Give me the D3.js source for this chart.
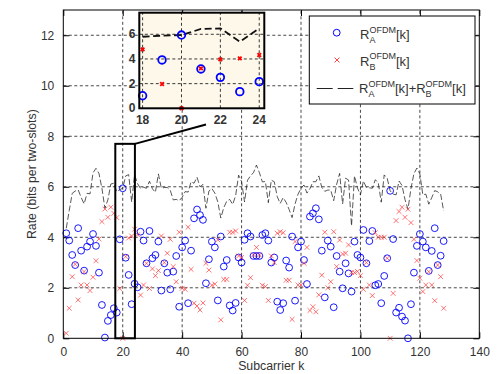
<!DOCTYPE html>
<html>
<head>
<meta charset="utf-8">
<script src="https://cdn.jsdelivr.net/npm/d3@7"></script>
<style>
  body { margin: 0; background: #fff; }
  svg { display: block; }
  text { font-family: Arial, "Liberation Sans", Helvetica, sans-serif; }
</style>
</head>
<body>
<svg id="chart" width="501" height="374"></svg>
<script>
// Per-subcarrier rates (bits per two-slots), subcarriers k = 1..128
const rateA = [
  4.16, 3.87, 3.30, 2.90, 4.36, 3.47, 2.68, 3.63, 3.83, 4.13,
  3.66, 2.60, 1.32, 0.03, 0.69, 0.92, 1.19, 1.02, 3.92, 5.94,
  3.19, 2.51, 1.35, 2.16, 2.02, 4.22, 3.87, 2.97, 4.25, 3.17,
  3.30, 3.83, 1.89, 2.97, 2.60, 1.94, 2.64, 3.26, 1.25, 3.60,
  3.87, 1.39, 3.47, 4.75, 5.10, 4.88, 4.69, 2.18, 3.13, 3.83,
  3.60, 1.50, 4.03, 2.84, 3.10, 1.30, 1.10, 1.40, 3.20, 3.00,
  3.90, 4.16, 4.03, 3.26, 3.26, 3.26, 4.09, 4.16, 3.87, 3.00,
  3.20, 1.45, 1.12, 1.39, 3.08, 2.80, 4.03, 1.49, 3.60, 3.83,
  3.10, 2.15, 4.82, 4.95, 5.15, 4.71, 3.47, 1.62, 3.87, 3.63,
  1.23, 3.26, 2.64, 1.98, 2.97, 2.57, 1.85, 3.83, 3.30, 3.20,
  4.29, 2.97, 3.85, 4.25, 2.10, 2.15, 1.39, 2.47, 3.17, 5.84,
  3.93, 1.02, 1.21, 0.86, 0.70, 0.00, 1.35, 2.60, 3.66, 4.13,
  3.83, 3.60, 2.67, 3.46, 4.36, 2.90, 3.27, 3.85
];
const rateB = [
  0.20, 1.19, 2.44, 2.93, 1.52, 2.11, 2.64, 2.11, 1.89, 2.42,
  3.07, 3.93, 4.62, 5.12, 4.79, 5.19, 4.95, 4.78, 1.97, 0.00,
  3.24, 3.97, 4.05, 4.32, 4.10, 1.71, 2.11, 2.97, 1.97, 2.75,
  2.48, 2.68, 4.05, 3.00, 3.37, 3.92, 2.84, 2.24, 4.20, 1.98,
  1.94, 4.40, 2.73, 1.39, 1.28, 1.12, 1.40, 2.97, 2.70, 2.10,
  2.15, 3.90, 0.73, 2.33, 2.33, 4.20, 4.20, 4.25, 3.26, 3.20,
  1.50, 2.10, 2.40, 3.30, 3.60, 3.30, 2.10, 2.05, 1.50, 3.26,
  3.00, 4.16, 4.22, 4.18, 2.30, 2.30, 0.75, 3.83, 2.11, 2.11,
  2.97, 3.60, 1.10, 1.25, 1.05, 1.72, 2.50, 4.20, 2.00, 2.24,
  4.22, 2.84, 3.89, 3.34, 3.37, 3.70, 2.60, 2.60, 2.65, 2.48,
  1.94, 3.00, 2.11, 1.69, 4.18, 4.00, 4.00, 4.00, 3.17, 0.00,
  1.78, 4.66, 5.02, 5.19, 4.79, 5.11, 4.58, 3.92, 3.08, 2.38,
  1.85, 2.11, 2.64, 2.11, 1.49, 2.90, 2.44, 1.19
];
const subcarriers = rateA.map((_, i) => i + 1);

const xTicks = [0, 20, 40, 60, 80, 100, 120, 140];
const yTicks = [0, 2, 4, 6, 8, 10, 12];
const insetXTicks = [18, 20, 22, 24];
const insetYTicks = [0, 2, 4, 6];
const xTitle = "Subcarrier k";
const yTitle = "Rate (bits per two-slots)";

const rows = subcarriers.map((k, i) => ({ k, a: rateA[i], b: rateB[i], sum: rateA[i] + rateB[i] }));

const svg = d3.select("#chart");
const M = { left: 63.3, right: 479.3, top: 10, bottom: 338.3 };
const x = d3.scaleLinear().domain([0, 140]).range([M.left, M.right]);
const y = d3.scaleLinear().domain([0, 13]).range([M.bottom, M.top]);

const BLUE = "#0000ff", RED = "#ff3030", TXT = "#333";

// plot background
svg.append("rect").attr("x", M.left).attr("y", M.top)
  .attr("width", M.right - M.left).attr("height", M.bottom - M.top).attr("fill", "#fff");

// dotted grid
const grid = svg.append("g").attr("stroke", "#333").attr("stroke-width", 0.9)
  .attr("stroke-dasharray", "3,2.5").attr("fill", "none");
xTicks.slice(1, -1).forEach(t => grid.append("line")
  .attr("x1", x(t)).attr("x2", x(t)).attr("y1", M.bottom).attr("y2", M.top));
yTicks.slice(1).forEach(t => grid.append("line")
  .attr("x1", M.left).attr("x2", M.right).attr("y1", y(t)).attr("y2", y(t)));

// axes with inward ticks on all four sides
function styleAxis(g) {
  g.select(".domain").remove();
  g.selectAll(".tick line").attr("stroke", "#000").attr("stroke-width", 1);
  g.selectAll(".tick text").attr("fill", TXT).style("font-size", "12px")
    .style("font-family", "Arial, 'Liberation Sans', sans-serif");
}
svg.append("g").attr("transform", `translate(0,${M.bottom})`)
  .call(d3.axisBottom(x).tickValues(xTicks).tickSize(-6).tickPadding(9).tickFormat(d3.format("d")))
  .call(styleAxis);
svg.append("g").attr("transform", `translate(0,${M.top})`)
  .call(d3.axisTop(x).tickValues(xTicks).tickSize(-6).tickFormat(""))
  .call(styleAxis);
svg.append("g").attr("transform", `translate(${M.left},0)`)
  .call(d3.axisLeft(y).tickValues(yTicks).tickSize(-6).tickPadding(9).tickFormat(d3.format("d")))
  .call(styleAxis);
svg.append("g").attr("transform", `translate(${M.right},0)`)
  .call(d3.axisRight(y).tickValues(yTicks).tickSize(-6).tickFormat(""))
  .call(styleAxis);

// sum rate line
const sumLine = d3.line().x(d => x(d.k)).y(d => y(d.sum));
svg.append("path").datum(rows).attr("d", sumLine).attr("fill", "none")
  .attr("stroke", "#222").attr("stroke-width", 0.75).attr("stroke-dasharray", "6,2.5");

// R_A circles
svg.append("g").selectAll("circle").data(rows).join("circle")
  .attr("cx", d => x(d.k)).attr("cy", d => y(d.a)).attr("r", 3.4)
  .attr("fill", "none").attr("stroke", BLUE).attr("stroke-width", 0.9);

// R_B crosses
const cross = (cx, cy, s) => `M${cx - s},${cy - s}L${cx + s},${cy + s}M${cx - s},${cy + s}L${cx + s},${cy - s}`;
svg.append("g").selectAll("path").data(rows).join("path")
  .attr("d", d => cross(x(d.k), y(d.b), 2.4))
  .attr("fill", "none").attr("stroke", RED).attr("stroke-width", 0.9).attr("stroke-opacity", 0.75);

// zoom rectangle
const zoomBox = { k0: 17.5, k1: 24.1, v0: 0, v1: 7.7 };
svg.append("rect").attr("x", x(zoomBox.k0)).attr("y", y(zoomBox.v1))
  .attr("width", x(zoomBox.k1) - x(zoomBox.k0)).attr("height", y(zoomBox.v0) - y(zoomBox.v1))
  .attr("fill", "none").attr("stroke", "#000").attr("stroke-width", 2);

// axis frame
svg.append("rect").attr("x", M.left).attr("y", M.top)
  .attr("width", M.right - M.left).attr("height", M.bottom - M.top)
  .attr("fill", "none").attr("stroke", "#000").attr("stroke-width", 1);

// inset
const I = { left: 139.3, right: 264.3, top: 12.7, bottom: 108.3 };
const xi = d3.scaleLinear().domain([17.83, 24.26]).range([I.left, I.right]);
const yi = d3.scaleLinear().domain([0, 7.75]).range([I.bottom, I.top]);

// connector from zoom rectangle toward the inset
svg.append("line").attr("x1", x(zoomBox.k1)).attr("y1", y(zoomBox.v1))
  .attr("x2", 206).attr("y2", 124.5).attr("stroke", "#000").attr("stroke-width", 2);

svg.append("rect").attr("x", I.left).attr("y", I.top)
  .attr("width", I.right - I.left).attr("height", I.bottom - I.top).attr("fill", "#fdf8ea");
svg.append("clipPath").attr("id", "insetClip").append("rect")
  .attr("x", I.left - 6).attr("y", I.top).attr("width", I.right - I.left + 12).attr("height", I.bottom - I.top + 6);
const ig = svg.append("g").attr("clip-path", "url(#insetClip)");
const igrid = ig.append("g").attr("stroke", "#222").attr("stroke-width", 0.9)
  .attr("stroke-dasharray", "3,2.5");
insetXTicks.forEach(t => igrid.append("line").attr("x1", xi(t)).attr("x2", xi(t))
  .attr("y1", I.bottom).attr("y2", I.top));
insetYTicks.slice(1).forEach(t => igrid.append("line").attr("x1", I.left).attr("x2", I.right)
  .attr("y1", yi(t)).attr("y2", yi(t)));

const insetRows = rows.filter(d => d.k >= 18 && d.k <= 24);
const insetLine = d3.line().x(d => xi(d.k)).y(d => yi(d.sum));
ig.append("path").datum(insetRows).attr("d", insetLine).attr("fill", "none")
  .attr("stroke", "#111").attr("stroke-width", 1.8).attr("stroke-dasharray", "7,3.5");
ig.selectAll("circle").data(insetRows).join("circle")
  .attr("cx", d => xi(d.k)).attr("cy", d => yi(d.a)).attr("r", 3.8)
  .attr("fill", "none").attr("stroke", BLUE).attr("stroke-width", 1.8);
ig.selectAll("path.bx").data(insetRows).join("path").attr("class", "bx")
  .attr("d", d => cross(xi(d.k), yi(d.b), 1.8))
  .attr("fill", "none").attr("stroke", "#ff0000").attr("stroke-width", 1.8);

svg.append("rect").attr("x", I.left).attr("y", I.top)
  .attr("width", I.right - I.left).attr("height", I.bottom - I.top)
  .attr("fill", "none").attr("stroke", "#000").attr("stroke-width", 2);

const insetLabel = sel => sel.attr("fill", TXT).style("font-size", "12px").style("font-weight", "bold");
svg.append("g").selectAll("text").data(insetXTicks).join("text")
  .attr("x", d => xi(d)).attr("y", 123.5).attr("text-anchor", "middle")
  .text(d => d).call(insetLabel);
svg.append("g").selectAll("text").data(insetYTicks).join("text")
  .attr("x", 135.5).attr("y", d => yi(d) + 4).attr("text-anchor", "end")
  .text(d => d).call(insetLabel);

// legend
const L = { left: 309.3, top: 16, width: 165.7, height: 88 };
svg.append("rect").attr("x", L.left).attr("y", L.top).attr("width", L.width).attr("height", L.height)
  .attr("fill", "#fff").attr("stroke", "#000").attr("stroke-width", 1);

// writes R^{OFDM}_{sub}[k] starting at x0, returns end x
function rateLabel(g, x0, base, sub) {
  const big = 13, small = 9;
  const r = g.append("text").attr("x", x0).attr("y", base).attr("fill", TXT)
    .style("font-size", big + "px").text("R");
  const rw = r.node().getComputedTextLength();
  const sup = g.append("text").attr("x", x0 + rw).attr("y", base - 6.5).attr("fill", TXT)
    .style("font-size", small + "px").text("OFDM");
  g.append("text").attr("x", x0 + rw).attr("y", base + 4).attr("fill", TXT)
    .style("font-size", small + "px").text(sub);
  const sw = sup.node().getComputedTextLength();
  const k = g.append("text").attr("x", x0 + rw + sw).attr("y", base).attr("fill", TXT)
    .style("font-size", big + "px").text("[k]");
  return x0 + rw + sw + k.node().getComputedTextLength();
}
const lg = svg.append("g");
lg.append("circle").attr("cx", 336.7).attr("cy", 32.7).attr("r", 3.4)
  .attr("fill", "none").attr("stroke", BLUE).attr("stroke-width", 1);
rateLabel(lg, 360, 39, "A");
lg.append("path").attr("d", cross(337, 60, 2.4)).attr("fill", "none")
  .attr("stroke", RED).attr("stroke-width", 0.9);
rateLabel(lg, 360, 65.5, "B");
lg.append("line").attr("x1", 316.7).attr("x2", 353.3).attr("y1", 88.5).attr("y2", 88.5)
  .attr("stroke", "#222").attr("stroke-width", 1).attr("stroke-dasharray", "16,5");
let xe = rateLabel(lg, 359, 93, "A");
const plus = lg.append("text").attr("x", xe).attr("y", 93).attr("fill", TXT)
  .style("font-size", "13px").text("+");
rateLabel(lg, xe + plus.node().getComputedTextLength(), 93, "B");

// axis titles
svg.append("text").attr("x", (M.left + M.right) / 2).attr("y", 369.5).attr("text-anchor", "middle")
  .attr("fill", TXT).style("font-size", "12.3px").text(xTitle);
svg.append("text").attr("transform", `translate(36,${(M.top + M.bottom) / 2}) rotate(-90)`)
  .attr("text-anchor", "middle").attr("fill", TXT).style("font-size", "12.3px").text(yTitle);
</script>
</body>
</html>
